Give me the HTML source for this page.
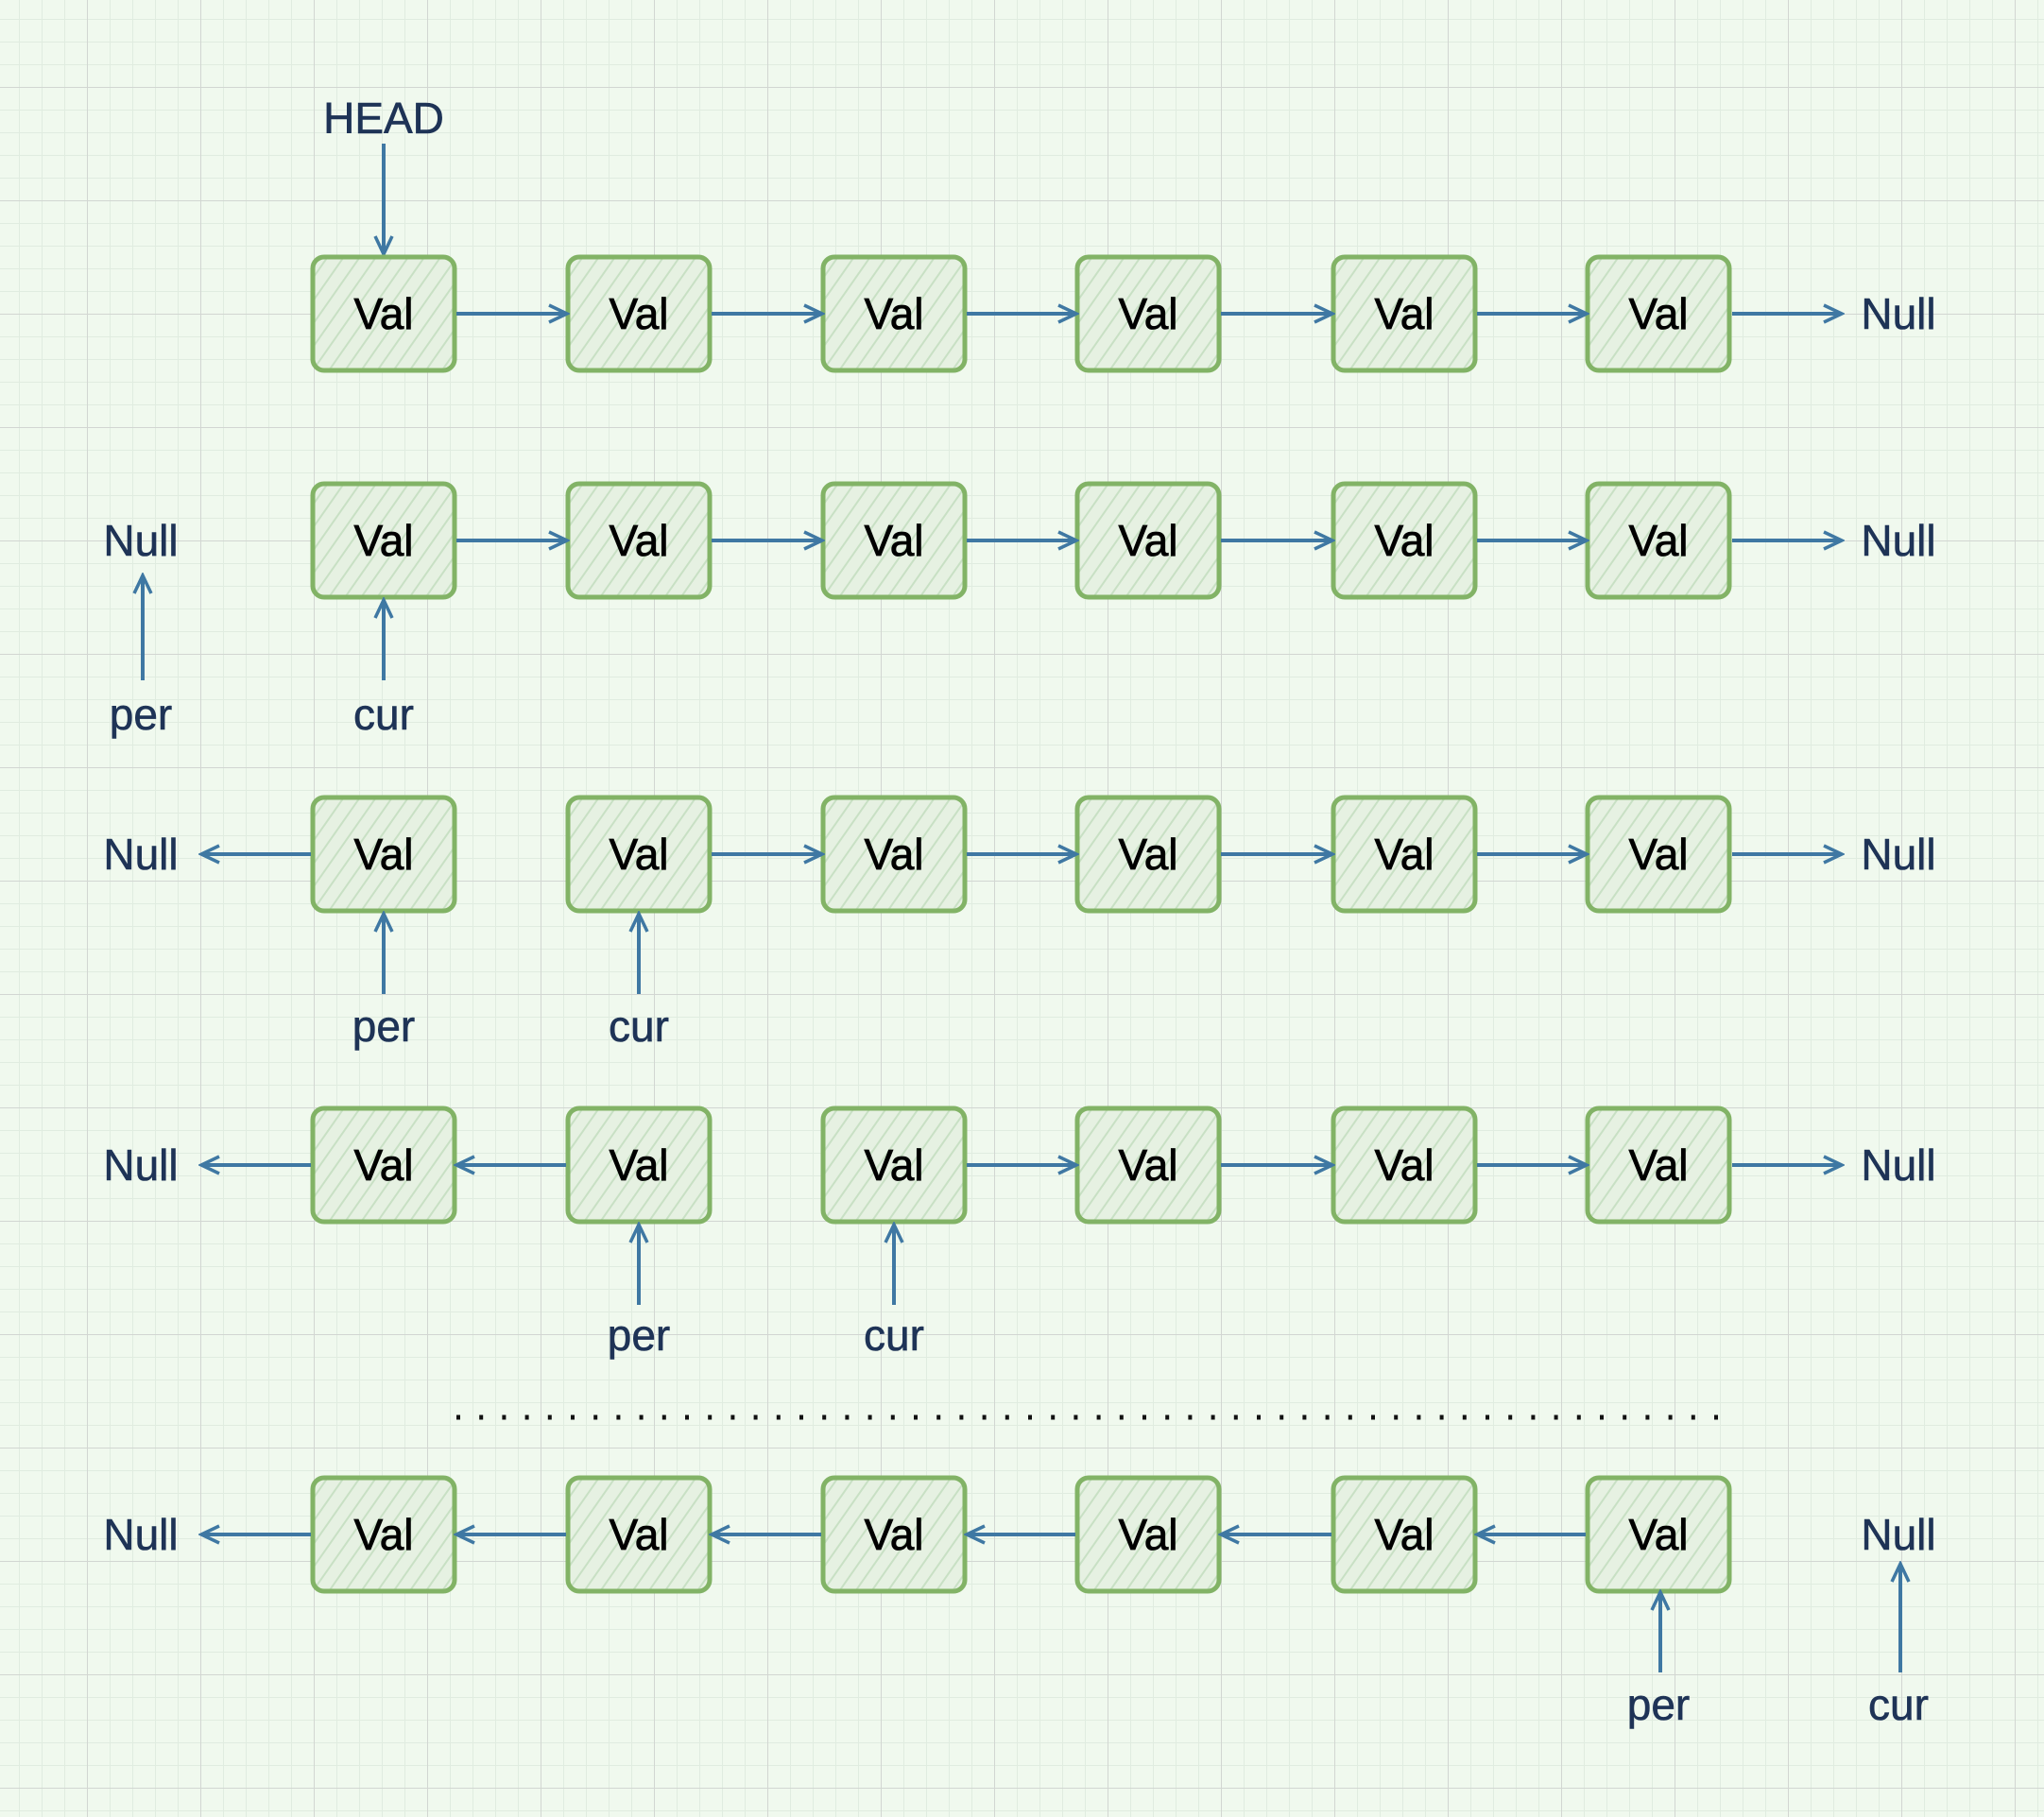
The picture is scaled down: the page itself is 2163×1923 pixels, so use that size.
<!DOCTYPE html>
<html><head><meta charset="utf-8"><style>
html,body{margin:0;padding:0;background:#f0f9ee;}
svg{display:block}
text{font-family:"Liberation Sans",sans-serif;}
.v{font-size:46px;fill:#000;text-anchor:middle;stroke:#000;stroke-width:0.8;}
.l{font-size:46px;fill:#1e3356;text-anchor:middle;stroke:#1e3356;stroke-width:0.6;}
.a{stroke:#3f78a3;stroke-width:4;fill:none;marker-end:url(#ah);}
</style></head><body>
<svg width="2163" height="1923" viewBox="0 0 2163 1923" xmlns="http://www.w3.org/2000/svg">
<defs>
<pattern id="minor" x="92" y="92" width="24" height="24" patternUnits="userSpaceOnUse">
<path d="M0 0H24M0 0V24" stroke="#e0ece0" stroke-width="2" fill="none"/></pattern>
<pattern id="major" x="92" y="92" width="120" height="120" patternUnits="userSpaceOnUse">
<path d="M0 0H120M0 0V120" stroke="#d2d6d2" stroke-width="2" fill="none"/></pattern>
<pattern id="hatch" width="14" height="14" patternUnits="userSpaceOnUse" patternTransform="rotate(35)">
<rect width="14" height="14" fill="#e6f1e2"/><line x1="0" y1="0" x2="0" y2="14" stroke="#c8e0c4" stroke-width="4"/></pattern>
<marker id="ah" markerWidth="24" markerHeight="24" refX="20" refY="12" orient="auto" markerUnits="userSpaceOnUse" viewBox="0 0 24 24">
<polyline points="2,3 21,12 2,21" fill="none" stroke="#3f78a3" stroke-width="3.5"/></marker>
<g id="box"><rect x="-75" y="-60" width="150" height="120" rx="12" fill="url(#hatch)" stroke="#82b366" stroke-width="5"/></g>
</defs>
<rect width="2163" height="1923" fill="#f0f9ee"/>
<rect width="2163" height="1923" fill="url(#minor)"/>
<rect width="2163" height="1923" fill="url(#major)"/>

<text class="l" x="406" y="141">HEAD</text>
<line class="a" x1="406" y1="152" x2="406" y2="268"/>
<g transform="translate(0,332)">
<use href="#box" x="406"/><use href="#box" x="676"/><use href="#box" x="946"/><use href="#box" x="1215"/><use href="#box" x="1486"/><use href="#box" x="1755"/>
<line class="a" x1="483" y1="0" x2="599" y2="0"/><line class="a" x1="753" y1="0" x2="869" y2="0"/><line class="a" x1="1023" y1="0" x2="1138" y2="0"/><line class="a" x1="1292" y1="0" x2="1409" y2="0"/><line class="a" x1="1563" y1="0" x2="1678" y2="0"/><line class="a" x1="1833" y1="0" x2="1948" y2="0"/>
<text class="v" x="406" y="16">Val</text><text class="v" x="676" y="16">Val</text><text class="v" x="946" y="16">Val</text><text class="v" x="1215" y="16">Val</text><text class="v" x="1486" y="16">Val</text><text class="v" x="1755" y="16">Val</text>
<text class="l" x="2009" y="16">Null</text>
</g>

<g transform="translate(0,572)">
<use href="#box" x="406"/><use href="#box" x="676"/><use href="#box" x="946"/><use href="#box" x="1215"/><use href="#box" x="1486"/><use href="#box" x="1755"/>
<line class="a" x1="483" y1="0" x2="599" y2="0"/><line class="a" x1="753" y1="0" x2="869" y2="0"/><line class="a" x1="1023" y1="0" x2="1138" y2="0"/><line class="a" x1="1292" y1="0" x2="1409" y2="0"/><line class="a" x1="1563" y1="0" x2="1678" y2="0"/><line class="a" x1="1833" y1="0" x2="1948" y2="0"/>
<text class="v" x="406" y="16">Val</text><text class="v" x="676" y="16">Val</text><text class="v" x="946" y="16">Val</text><text class="v" x="1215" y="16">Val</text><text class="v" x="1486" y="16">Val</text><text class="v" x="1755" y="16">Val</text>
<text class="l" x="149" y="16">Null</text><text class="l" x="2009" y="16">Null</text>
<line class="a" x1="151" y1="148" x2="151" y2="38"/>
<line class="a" x1="406" y1="148" x2="406" y2="64"/>
<text class="l" x="149" y="200">per</text><text class="l" x="406" y="200">cur</text>
</g>

<g transform="translate(0,904)">
<use href="#box" x="406"/><use href="#box" x="676"/><use href="#box" x="946"/><use href="#box" x="1215"/><use href="#box" x="1486"/><use href="#box" x="1755"/>
<line class="a" x1="329" y1="0" x2="214" y2="0"/>
<line class="a" x1="753" y1="0" x2="869" y2="0"/><line class="a" x1="1023" y1="0" x2="1138" y2="0"/><line class="a" x1="1292" y1="0" x2="1409" y2="0"/><line class="a" x1="1563" y1="0" x2="1678" y2="0"/><line class="a" x1="1833" y1="0" x2="1948" y2="0"/>
<text class="v" x="406" y="16">Val</text><text class="v" x="676" y="16">Val</text><text class="v" x="946" y="16">Val</text><text class="v" x="1215" y="16">Val</text><text class="v" x="1486" y="16">Val</text><text class="v" x="1755" y="16">Val</text>
<text class="l" x="149" y="16">Null</text><text class="l" x="2009" y="16">Null</text>
<line class="a" x1="406" y1="148" x2="406" y2="64"/>
<line class="a" x1="676" y1="148" x2="676" y2="64"/>
<text class="l" x="406" y="198">per</text><text class="l" x="676" y="198">cur</text>
</g>

<g transform="translate(0,1233)">
<use href="#box" x="406"/><use href="#box" x="676"/><use href="#box" x="946"/><use href="#box" x="1215"/><use href="#box" x="1486"/><use href="#box" x="1755"/>
<line class="a" x1="329" y1="0" x2="214" y2="0"/><line class="a" x1="599" y1="0" x2="484" y2="0"/>
<line class="a" x1="1023" y1="0" x2="1138" y2="0"/><line class="a" x1="1292" y1="0" x2="1409" y2="0"/><line class="a" x1="1563" y1="0" x2="1678" y2="0"/><line class="a" x1="1833" y1="0" x2="1948" y2="0"/>
<text class="v" x="406" y="16">Val</text><text class="v" x="676" y="16">Val</text><text class="v" x="946" y="16">Val</text><text class="v" x="1215" y="16">Val</text><text class="v" x="1486" y="16">Val</text><text class="v" x="1755" y="16">Val</text>
<text class="l" x="149" y="16">Null</text><text class="l" x="2009" y="16">Null</text>
<line class="a" x1="676" y1="148" x2="676" y2="64"/>
<line class="a" x1="946" y1="148" x2="946" y2="64"/>
<text class="l" x="676" y="196">per</text><text class="l" x="946" y="196">cur</text>
</g>

<line x1="483" y1="1500" x2="1836" y2="1500" stroke="#111" stroke-width="5" stroke-dasharray="4 20.2"/>

<g transform="translate(0,1624)">
<use href="#box" x="406"/><use href="#box" x="676"/><use href="#box" x="946"/><use href="#box" x="1215"/><use href="#box" x="1486"/><use href="#box" x="1755"/>
<line class="a" x1="329" y1="0" x2="214" y2="0"/><line class="a" x1="599" y1="0" x2="484" y2="0"/><line class="a" x1="869" y1="0" x2="754" y2="0"/><line class="a" x1="1138" y1="0" x2="1024" y2="0"/><line class="a" x1="1409" y1="0" x2="1293" y2="0"/><line class="a" x1="1678" y1="0" x2="1564" y2="0"/>
<text class="v" x="406" y="16">Val</text><text class="v" x="676" y="16">Val</text><text class="v" x="946" y="16">Val</text><text class="v" x="1215" y="16">Val</text><text class="v" x="1486" y="16">Val</text><text class="v" x="1755" y="16">Val</text>
<text class="l" x="149" y="16">Null</text><text class="l" x="2009" y="16">Null</text>
<line class="a" x1="1757" y1="146" x2="1757" y2="62"/>
<line class="a" x1="2011" y1="146" x2="2011" y2="32"/>
<text class="l" x="1755" y="196">per</text><text class="l" x="2009" y="196">cur</text>
</g>
</svg>
</body></html>
